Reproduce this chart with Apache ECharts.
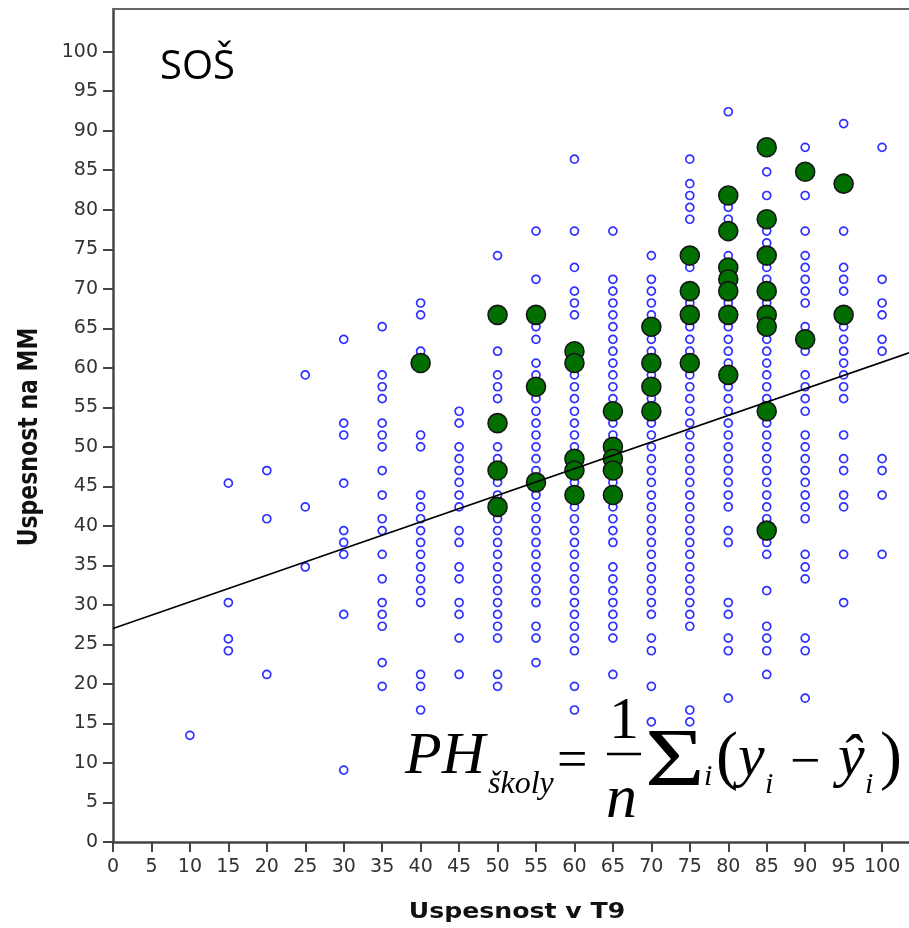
<!DOCTYPE html>
<html><head><meta charset="utf-8">
<script src="https://cdn.jsdelivr.net/npm/echarts@6/dist/echarts.min.js"></script>
<style>html,body{margin:0;padding:0;background:#fff}#c{width:909px;height:928px}</style>
</head><body><div id="c"></div>
<script>
// tick labels
const xTicks = [0,5,10,15,20,25,30,35,40,45,50,55,60,65,70,75,80,85,90,95,100];
const yTicks = [0,5,10,15,20,25,30,35,40,45,50,55,60,65,70,75,80,85,90,95,100];

// blue points: Uspesnost na MM values for each T9 column
const mm10 = [13.5];
const mm15 = [45.4, 30.3, 25.7, 24.2];
const mm20 = [47.0, 40.9, 21.2];
const mm25 = [59.1, 42.4, 34.8];
const mm30 = [63.6, 53.0, 51.5, 45.4, 39.4, 37.9, 36.4, 28.8, 9.1];
const mm35 = [65.2, 59.1, 57.6, 56.1, 53.0, 51.5, 50.0, 47.0, 43.9, 40.9, 39.4, 36.4, 33.3, 30.3, 28.8, 27.3, 22.7, 19.7];
const mm40 = [68.2, 66.7, 62.1, 51.5, 50.0, 43.9, 42.4, 40.9, 39.4, 37.9, 36.4, 34.8, 33.3, 31.8, 30.3, 21.2, 19.7, 16.7];
const mm45 = [54.5, 53.0, 50.0, 48.5, 47.0, 45.5, 43.9, 42.4, 39.4, 37.9, 34.8, 33.3, 30.3, 28.8, 25.8, 21.2];
const mm50 = [74.2, 62.1, 59.1, 57.6, 56.1, 50.0, 48.5, 45.5, 43.9, 40.9, 39.4, 37.9, 36.4, 34.8, 33.3, 31.8, 30.3, 28.8, 27.3, 25.8, 21.2, 19.7];
const mm55 = [77.3, 71.2, 65.2, 63.6, 60.6, 59.1, 56.1, 54.5, 53.0, 51.5, 50.0, 48.5, 47.0, 43.9, 42.4, 40.9, 39.4, 37.9, 36.4, 34.8, 33.3, 31.8, 30.3, 27.3, 25.8, 22.7];
const mm60 = [86.4, 77.3, 72.7, 69.7, 68.2, 66.7, 59.1, 57.6, 56.1, 54.5, 53.0, 51.5, 50.0, 45.5, 42.4, 40.9, 39.4, 37.9, 36.4, 34.8, 33.3, 31.8, 30.3, 28.8, 27.3, 25.8, 24.2, 19.7, 16.7];
const mm65 = [77.3, 71.2, 69.7, 68.2, 66.7, 65.2, 63.6, 62.1, 60.6, 59.1, 57.6, 56.1, 53.0, 51.5, 45.5, 42.4, 40.9, 39.4, 37.9, 34.8, 33.3, 31.8, 30.3, 28.8, 27.3, 25.8, 21.2];
const mm70 = [74.2, 71.2, 69.7, 68.2, 66.7, 63.6, 62.1, 59.1, 56.1, 53.0, 51.5, 50.0, 48.5, 47.0, 45.5, 43.9, 42.4, 40.9, 39.4, 37.9, 36.4, 34.8, 33.3, 31.8, 30.3, 28.8, 25.8, 24.2, 19.7, 15.2];
const mm75 = [86.4, 83.3, 81.8, 80.3, 78.8, 72.7, 68.2, 65.2, 63.6, 62.1, 59.1, 57.6, 56.1, 54.5, 53.0, 51.5, 50.0, 48.5, 47.0, 45.5, 43.9, 42.4, 40.9, 39.4, 37.9, 36.4, 34.8, 33.3, 31.8, 30.3, 28.8, 27.3, 16.7, 15.2];
const mm80 = [92.4, 80.3, 78.8, 74.2, 68.2, 65.2, 63.6, 62.1, 60.6, 57.6, 56.1, 54.5, 53.0, 51.5, 50.0, 48.5, 47.0, 45.5, 43.9, 42.4, 39.4, 37.9, 30.3, 28.8, 25.8, 24.2, 18.2];
const mm85 = [84.8, 81.8, 77.3, 75.8, 72.7, 71.2, 68.2, 63.6, 62.1, 60.6, 59.1, 57.6, 56.1, 53.0, 51.5, 50.0, 48.5, 47.0, 45.5, 43.9, 42.4, 40.9, 37.9, 36.4, 31.8, 27.3, 25.8, 24.2, 21.2];
const mm90 = [87.9, 81.8, 77.3, 74.2, 72.7, 71.2, 69.7, 68.2, 65.2, 62.1, 59.1, 57.6, 56.1, 54.5, 51.5, 50.0, 48.5, 47.0, 45.5, 43.9, 42.4, 40.9, 36.4, 34.8, 33.3, 25.8, 24.2, 18.2];
const mm95 = [90.9, 77.3, 72.7, 71.2, 69.7, 65.2, 63.6, 62.1, 60.6, 59.1, 57.6, 56.1, 51.5, 48.5, 47.0, 43.9, 42.4, 36.4, 30.3];
const mm100 = [87.9, 71.2, 68.2, 66.7, 63.6, 62.1, 48.5, 47.0, 43.9, 36.4];

const t9Columns = [10,15,20,25,30,35,40,45,50,55,60,65,70,75,80,85,90,95,100];
const mmColumns = [mm10,mm15,mm20,mm25,mm30,mm35,mm40,mm45,mm50,mm55,mm60,mm65,mm70,mm75,mm80,mm85,mm90,mm95,mm100];

// green points (schools)
const greenT9 = [40, 50,50,50,50, 55,55,55, 60,60,60,60,60, 65,65,65,65,65, 70,70,70,70, 75,75,75,75, 80,80,80,80,80,80,80, 85,85,85,85,85,85,85,85, 90,90, 95,95];
const greenMM = [60.6, 66.7,53.0,47.0,42.4, 66.7,57.6,45.5, 62.1,60.6,48.5,47.0,43.9, 54.5,50.0,48.5,47.0,43.9, 65.2,60.6,57.6,54.5, 74.2,69.7,66.7,60.6, 81.8,77.3,72.7,71.2,69.7,66.7,59.1, 87.9,78.8,74.2,69.7,66.7,65.2,54.5,39.4, 84.8,63.6, 83.3,66.7];

// regression line endpoints
const fitLine = [[0, 27.0], [103.5, 61.9]];

const blueData = [];
t9Columns.forEach((x, i) => mmColumns[i].forEach(y => blueData.push([x, y])));
const greenData = greenT9.map((x, i) => [x, greenMM[i]]);

const axisColor = '#444';
const labelFont = {fontFamily: 'DejaVu Sans', fontSize: 19, color: '#333'};
const serif = 'Liberation Serif';

function txt(text, x, y, size, italic, sx) {
  return {
    type: 'text', x: x, y: y, scaleX: sx || 1, z: 100,
    style: {text: text, fontFamily: serif, fontSize: size, fontStyle: italic ? 'italic' : 'normal',
            fill: '#000', textAlign: 'left', textVerticalAlign: 'middle', verticalAlign: 'middle'}
  };
}

const chart = echarts.init(document.getElementById('c'), null, {renderer: 'canvas'});
chart.setOption({
  animation: false,
  backgroundColor: '#fff',
  grid: {left: 113, right: 0, top: 9, bottom: 86, containLabel: false},
  xAxis: [{
    type: 'value', min: 0, max: 103.5, interval: 5,
    axisLine: {onZero: false, lineStyle: {color: axisColor, width: 2.5}},
    axisTick: {customValues: xTicks, length: 10, lineStyle: {color: axisColor, width: 2}},
    axisLabel: Object.assign({customValues: xTicks, margin: 16}, labelFont),
    splitLine: {show: false}
  }, {
    type: 'value', position: 'top', min: 0, max: 103.5,
    axisLine: {show: true, onZero: false, lineStyle: {color: '#666', width: 2}},
    axisTick: {show: false}, axisLabel: {show: false}, splitLine: {show: false}
  }],
  yAxis: {
    type: 'value', min: 0, max: 105.4, interval: 5,
    axisLine: {onZero: false, lineStyle: {color: axisColor, width: 2.5}},
    axisTick: {customValues: yTicks, length: 10, lineStyle: {color: axisColor, width: 2}},
    axisLabel: Object.assign({customValues: yTicks, margin: 15}, labelFont),
    splitLine: {show: false}
  },
  series: [{
    type: 'scatter', data: blueData, symbol: 'circle', symbolSize: 8, z: 2, silent: true,
    itemStyle: {color: 'rgba(0,0,0,0)', borderColor: '#3030ff', borderWidth: 1.7, opacity: 1}
  }, {
    type: 'scatter', data: greenData, symbol: 'circle', symbolSize: 19, z: 3, silent: true,
    itemStyle: {color: '#006f00', borderColor: '#161616', borderWidth: 1.6, opacity: 1}
  }, {
    type: 'line', data: fitLine, showSymbol: false, z: 4, silent: true,
    lineStyle: {color: '#000', width: 1.6}
  }],
  graphic: [
    {type: 'text', x: 160, y: 68, z: 100, style: {text: 'SOŠ', fontFamily: 'Open Sans', fontSize: 40, fill: '#000', textAlign: 'left', textVerticalAlign: 'middle', verticalAlign: 'middle'}},
    {type: 'text', x: 517, y: 913, scaleX: 1.2, z: 100, style: {text: 'Uspesnost v T9', fontFamily: 'DejaVu Sans', fontWeight: 'bold', fontSize: 21, fill: '#111', textAlign: 'center', textVerticalAlign: 'middle', verticalAlign: 'middle'}},
    {type: 'text', x: 30, y: 437, rotation: Math.PI / 2, scaleY: 1.2, z: 100, style: {text: 'Uspesnost na MM', fontFamily: 'DejaVu Sans', fontWeight: 'bold', fontSize: 22, fill: '#111', textAlign: 'center', textVerticalAlign: 'middle', verticalAlign: 'middle'}},
    txt('PH', 405, 757, 60, true),
    txt('školy', 488, 785, 32, true),
    txt('=', 557, 763, 54, false),
    txt('1', 609, 722, 60, false),
    {type: 'line', z: 100, shape: {x1: 607, y1: 754, x2: 641, y2: 754}, style: {stroke: '#000', lineWidth: 2.5}},
    txt('n', 606, 801, 62, true),
    txt('Σ', 645, 763, 82, false, 1.25),
    txt('i', 704, 777, 30, true),
    txt('(', 716, 760, 66, false),
    txt('y', 738, 759, 60, true),
    txt('i', 765, 785, 30, true),
    txt('−', 790, 764, 54, false),
    txt('ŷ', 838, 759, 60, true),
    txt('i', 865, 785, 30, true),
    txt(')', 880, 760, 66, false)
  ]
});
</script>
</body></html>
